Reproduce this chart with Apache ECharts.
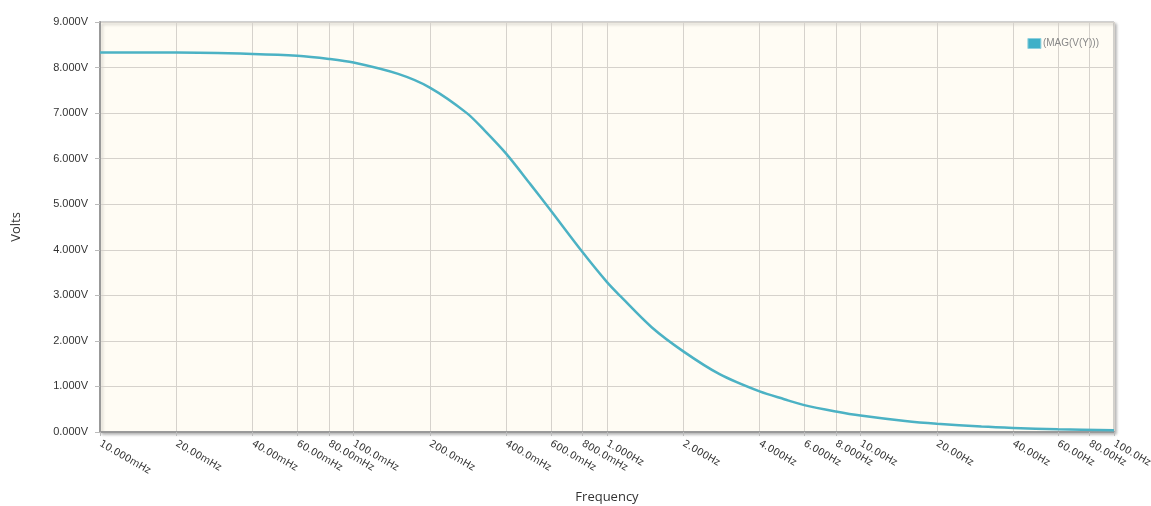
<meta charset="utf-8">
<script src="https://cdn.jsdelivr.net/npm/echarts@6.0.0/dist/echarts.min.js"></script>
<style>
  html, body { margin: 0; padding: 0; background: #fff; }
  #chart { width: 1151px; height: 506px; }
</style>
<body>
<div id="chart"></div>
<script>
// frequencies (Hz) and magnitudes (V)
var freqs = [0.01, 0.02, 0.04, 0.06, 0.08, 0.1, 0.15, 0.2, 0.28, 0.33, 0.4, 0.5, 0.6, 0.8, 1.0, 1.13, 1.5, 2, 2.78, 4, 5, 6, 8, 10, 15, 20, 30, 40, 60, 100];
var volts = [8.33, 8.33, 8.30, 8.26, 8.19, 8.11, 7.86, 7.56, 7.00, 6.61, 6.11, 5.43, 4.86, 3.95, 3.29, 2.98, 2.30, 1.77, 1.27, 0.89, 0.72, 0.59, 0.45, 0.36, 0.24, 0.18, 0.12, 0.09, 0.06, 0.04];

var tickFreqs = [0.01, 0.02, 0.04, 0.06, 0.08, 0.1, 0.2, 0.4, 0.6, 0.8, 1, 2, 4, 6, 8, 10, 20, 40, 60, 80, 100];
var tickLabels = ['10.000mHz', '20.00mHz', '40.00mHz', '60.00mHz', '80.00mHz', '100.0mHz', '200.0mHz', '400.0mHz', '600.0mHz', '800.0mHz',
  '1.000Hz', '2.000Hz', '4.000Hz', '6.000Hz', '8.000Hz', '10.00Hz', '20.00Hz', '40.00Hz', '60.00Hz', '80.00Hz', '100.0Hz'];

var seriesName = '(MAG(V(Y)))';

var tickPos = tickFreqs.map(function (f) { return Math.log10(f); });
var lineData = freqs.map(function (f, i) { return [Math.log10(f), volts[i]]; });

var chart = echarts.init(document.getElementById('chart'));

var option = {
  animation: false,
  legend: {
    data: [seriesName],
    right: 47, top: 33,
    icon: 'rect', itemWidth: 13, itemHeight: 10, itemGap: 4,
    itemStyle: { color: '#3fb0c8', borderColor: '#8fd0dd', borderWidth: 1 },
    textStyle: { fontSize: 10, color: '#888', fontFamily: 'Liberation Sans', padding: [-9, 0, 0, -3] }
  },
  grid: {
    left: 100, right: 37, top: 22, bottom: 74,
    outerBoundsMode: 'none',
    show: true, backgroundColor: '#fffcf4',
    borderColor: '#a8a8a8', borderWidth: 1,
    shadowColor: 'rgba(0,0,0,0.3)', shadowBlur: 3, shadowOffsetX: 2, shadowOffsetY: 2
  },
  xAxis: {
    type: 'value', min: -2, max: 2,
    name: 'Frequency', nameLocation: 'middle', nameGap: 59,
    nameTextStyle: { fontSize: 13, color: '#333', fontFamily: 'Open Sans' },
    axisLine: { onZero: false, lineStyle: { color: '#999', width: 2 } },
    axisTick: { show: true, length: 4, lineStyle: { color: '#bbb' }, customValues: tickPos },
    axisLabel: {
      customValues: tickPos, rotate: -30, fontSize: 10, color: '#333', fontFamily: 'DejaVu Sans', margin: 11,
      formatter: function (v) {
        for (var i = 0; i < tickPos.length; i++) {
          if (Math.abs(tickPos[i] - v) < 1e-6) return tickLabels[i];
        }
        return '';
      }
    },
    splitLine: { show: true, lineStyle: { color: '#d6d2cc', width: 1 } }
  },
  yAxis: {
    type: 'value', min: 0, max: 9, interval: 1,
    name: 'Volts', nameLocation: 'middle', nameGap: 77, nameRotate: 90,
    nameTextStyle: { fontSize: 13, color: '#333', fontFamily: 'Open Sans' },
    axisLine: { show: true, onZero: false, lineStyle: { color: '#999', width: 2 } },
    axisTick: { show: true, length: 5, lineStyle: { color: '#bbb' } },
    axisLabel: {
      fontSize: 11, color: '#333', fontFamily: 'Liberation Sans', margin: 12,
      formatter: function (v) { return v.toFixed(3) + 'V'; }
    },
    splitLine: { show: true, lineStyle: { color: '#d6d2cc', width: 1 } }
  },
  series: [{
    name: seriesName,
    type: 'line',
    data: lineData,
    smooth: 0.3,
    showSymbol: false,
    lineStyle: { color: '#4cb2c4', width: 2.5 },
    itemStyle: { color: '#3fb0c8' }
  }]
};

chart.setOption(option);
</script>
</body>
